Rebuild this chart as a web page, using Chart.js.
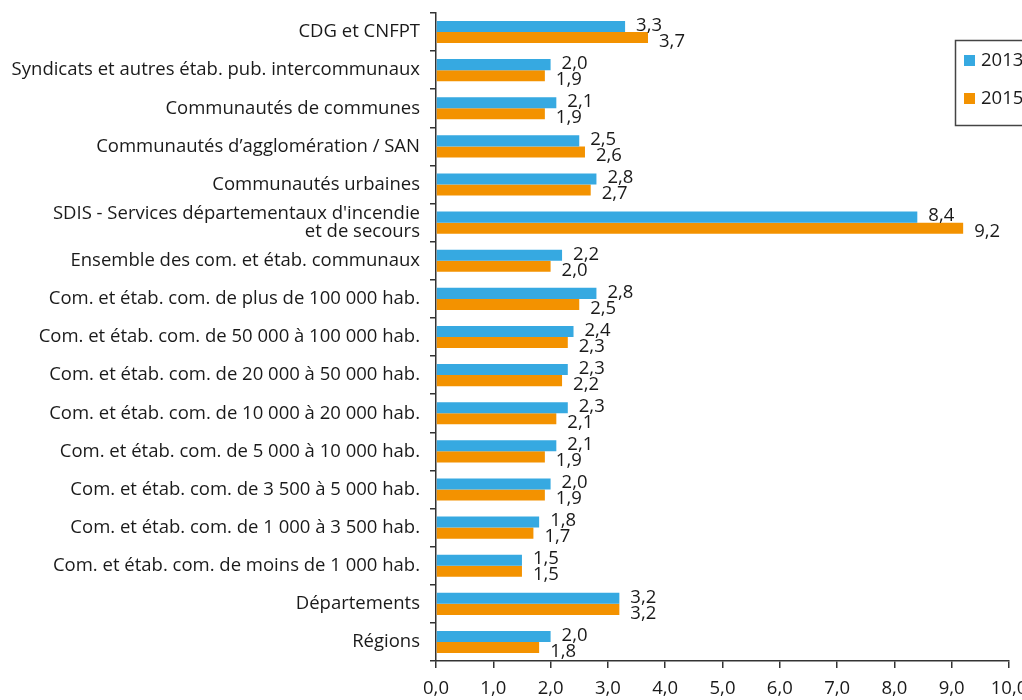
<!DOCTYPE html>
<html>
<head>
<meta charset="utf-8">
<script src="https://cdn.jsdelivr.net/npm/chart.js@4"></script>
<style>
  html, body { margin: 0; padding: 0; background: #ffffff; }
  #wrap { width: 1022px; height: 700px; position: relative; }
</style>
</head>
<body>
<div id="wrap"><canvas id="chart" width="1022" height="700"></canvas></div>
<script>
// Catégories (de haut en bas)
var categories = [
    'CDG et CNFPT',
    'Syndicats et autres étab. pub. intercommunaux',
    'Communautés de communes',
    'Communautés d\u2019agglomération / SAN',
    'Communautés urbaines',
    ['SDIS - Services départementaux d\'incendie', 'et de secours'],
    'Ensemble des com. et étab. communaux',
    'Com. et étab. com. de plus de 100 000 hab.',
    'Com. et étab. com. de 50 000 à 100 000 hab.',
    'Com. et étab. com. de 20 000 à 50 000 hab.',
    'Com. et étab. com. de 10 000 à 20 000 hab.',
    'Com. et étab. com. de 5 000 à 10 000 hab.',
    'Com. et étab. com. de 3 500 à 5 000 hab.',
    'Com. et étab. com. de 1 000 à 3 500 hab.',
    'Com. et étab. com. de moins de 1 000 hab.',
    'Départements',
    'Régions'
];

var values2013 = [3.3, 2.0, 2.1, 2.5, 2.8, 8.4, 2.2, 2.8, 2.4, 2.3, 2.3, 2.1, 2.0, 1.8, 1.5, 3.2, 2.0];
var values2015 = [3.7, 1.9, 1.9, 2.6, 2.7, 9.2, 2.0, 2.5, 2.3, 2.2, 2.1, 1.9, 1.9, 1.7, 1.5, 3.2, 1.8];

var seriesLabels = ['2013', '2015'];
var seriesColors = ['#36a9e1', '#f39200'];

var xTicks = [0, 1, 2, 3, 4, 5, 6, 7, 8, 9, 10];

var FONT = '"Open Sans", "Noto Sans", sans-serif';
var TEXT = '#1a1a1a';
var AXIS = '#333333';

function fmt(v) {
    return v.toFixed(1).replace('.', ',');
}

// Étiquettes de valeur à droite des barres
var valueLabels = {
    id: 'valueLabels',
    afterDatasetsDraw: function (chart) {
        var ctx = chart.ctx;
        ctx.save();
        ctx.font = '18.5px ' + FONT;
        ctx.fillStyle = TEXT;
        ctx.textAlign = 'left';
        ctx.textBaseline = 'middle';
        chart.data.datasets.forEach(function (ds, di) {
            var meta = chart.getDatasetMeta(di);
            meta.data.forEach(function (bar, i) {
                var dy = di === 0 ? -1 : 4;
                ctx.fillText(fmt(ds.data[i]), bar.x + 11, bar.y + dy);
            });
        });
        ctx.restore();
    }
};

// Légende encadrée à droite
var boxLegend = {
    id: 'boxLegend',
    afterDraw: function (chart) {
        var ctx = chart.ctx;
        ctx.save();
        ctx.strokeStyle = '#444444';
        ctx.lineWidth = 1.5;
        ctx.strokeRect(955.5, 40.5, 80, 85);
        ctx.font = '18.5px ' + FONT;
        ctx.textBaseline = 'middle';
        ctx.textAlign = 'left';
        chart.data.datasets.forEach(function (ds, i) {
            var y = 60 + i * 38;
            ctx.fillStyle = ds.backgroundColor;
            ctx.fillRect(964, y - 5, 11, 11);
            ctx.fillStyle = TEXT;
            ctx.fillText(ds.label, 981, y + 1);
        });
        ctx.restore();
    }
};

new Chart(document.getElementById('chart'), {
    type: 'bar',
    data: {
        labels: categories,
        datasets: [
            { label: seriesLabels[0], data: values2013, backgroundColor: seriesColors[0] },
            { label: seriesLabels[1], data: values2015, backgroundColor: seriesColors[1] }
        ]
    },
    options: {
        indexAxis: 'y',
        responsive: false,
        animation: false,
        layout: { padding: { top: 13, right: 13, left: 0, bottom: 0 } },
        datasets: {
            bar: { barPercentage: 1.0, categoryPercentage: 0.58, borderWidth: 0 }
        },
        plugins: {
            legend: { display: false },
            tooltip: { enabled: false }
        },
        scales: {
            x: {
                min: 0,
                max: 10,
                afterBuildTicks: function (axis) {
                    axis.ticks = xTicks.map(function (v) { return { value: v }; });
                },
                afterFit: function (axis) {
                    axis.height = 39;
                    axis.paddingRight = 0;
                    axis.paddingLeft = 0;
                },
                border: { display: true, color: AXIS, width: 1.5 },
                grid: { drawOnChartArea: false, drawTicks: true, tickLength: 7, color: AXIS, lineWidth: 1.5 },
                ticks: {
                    color: TEXT,
                    font: { family: FONT, size: 18.5 },
                    padding: 10,
                    maxRotation: 0,
                    callback: function (v) { return fmt(v); }
                }
            },
            y: {
                afterFit: function (axis) {
                    axis.width = 436;
                    axis.paddingTop = 0;
                    axis.paddingBottom = 0;
                },
                border: { display: true, color: AXIS, width: 1.5 },
                grid: { drawOnChartArea: false, drawTicks: true, tickLength: 6, color: AXIS, lineWidth: 1.5, offset: true },
                ticks: {
                    color: TEXT,
                    font: { family: FONT, size: 18.5, lineHeight: 0.95 },
                    padding: 10,
                    autoSkip: false
                }
            }
        }
    },
    plugins: [valueLabels, boxLegend]
});
</script>
</body>
</html>
